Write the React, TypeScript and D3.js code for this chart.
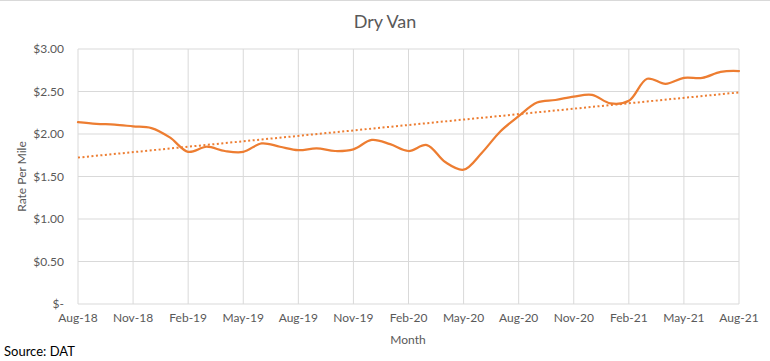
import React from "react";
import * as d3 from "d3";

// monthly dry van rate per mile, Aug-18 .. Aug-21
const months = [
  "Aug-18", "Sep-18", "Oct-18", "Nov-18", "Dec-18",
  "Jan-19", "Feb-19", "Mar-19", "Apr-19", "May-19", "Jun-19", "Jul-19",
  "Aug-19", "Sep-19", "Oct-19", "Nov-19", "Dec-19",
  "Jan-20", "Feb-20", "Mar-20", "Apr-20", "May-20", "Jun-20", "Jul-20",
  "Aug-20", "Sep-20", "Oct-20", "Nov-20", "Dec-20",
  "Jan-21", "Feb-21", "Mar-21", "Apr-21", "May-21", "Jun-21", "Jul-21", "Aug-21",
];
const rates = [
  2.14, 2.12, 2.11, 2.09, 2.07,
  1.96, 1.79, 1.85, 1.8, 1.79, 1.89, 1.85,
  1.81, 1.83, 1.8, 1.82, 1.93,
  1.88, 1.8, 1.87, 1.67, 1.58, 1.78, 2.03,
  2.21, 2.37, 2.4, 2.44, 2.46,
  2.36, 2.39, 2.65, 2.59, 2.66, 2.66, 2.73, 2.74,
];
const xTickLabels = months.filter((_, i) => i % 3 === 0);
const yTicks = [0, 0.5, 1, 1.5, 2, 2.5, 3];

const W = 770, H = 361;
const left = 78, right = 739, top = 49, bottom = 304;
const orange = "#ED7D31";
const grey = "#595959";
const font = "Lato, 'Open Sans', sans-serif";

export default function App() {
  const x = d3.scalePoint<string>().domain(months).range([left, right]);
  const y = d3.scaleLinear().domain([0, 3]).range([bottom, top]);

  const line = d3
    .line<number>()
    .x((_, i) => x(months[i]) as number)
    .y(d => y(d))
    .curve(d3.curveCatmullRom.alpha(0.5));

  // linear trendline (least squares on month index)
  const n = rates.length;
  const idx = d3.range(n);
  const mx = d3.mean(idx) as number;
  const my = d3.mean(rates) as number;
  const slope =
    d3.sum(idx, i => (i - mx) * (rates[i] - my)) / d3.sum(idx, i => (i - mx) ** 2);
  const icpt = my - slope * mx;

  const fmt = (v: number) => (v === 0 ? "$-" : d3.format("$.2f")(v));

  return (
    <svg width={W} height={H} style={{ position: "absolute", left: 0, top: 0 }} fontFamily={font}>
      <rect width={W} height={H} fill="#fff" />
      <line x1={0} x2={W} y1={0.5} y2={0.5} stroke="#d9d9d9" />
      <text x={385} y={28} textAnchor="middle" fontSize={18} fill={grey}>Dry Van</text>

      {yTicks.map(t => (
        <g key={t}>
          <line x1={left} x2={right} y1={y(t)} y2={y(t)} stroke="#d9d9d9" />
          <text x={64} y={y(t) + 4} textAnchor="end" fontSize={12} fill={grey}>{fmt(t)}</text>
        </g>
      ))}
      {xTickLabels.map(m => (
        <g key={m}>
          <line x1={x(m)} x2={x(m)} y1={top} y2={bottom} stroke="#d9d9d9" />
          <text x={x(m)} y={322} textAnchor="middle" fontSize={12} fill={grey}>{m}</text>
        </g>
      ))}

      <line
        x1={left} x2={right}
        y1={y(icpt)} y2={y(icpt + slope * (n - 1))}
        stroke={orange} strokeWidth={2} strokeDasharray="2 2.5"
      />
      <path d={line(rates) as string} fill="none" stroke={orange} strokeWidth={2.25} strokeLinecap="round" />

      <text transform={`translate(26,${(top + bottom) / 2}) rotate(-90)`} textAnchor="middle" fontSize={12} fill={grey}>Rate Per Mile</text>
      <text x={408} y={344} textAnchor="middle" fontSize={12} fill={grey}>Month</text>
      <text x={4} y={356} fontSize={13} fill="#000">Source: DAT</text>
    </svg>
  );
}
